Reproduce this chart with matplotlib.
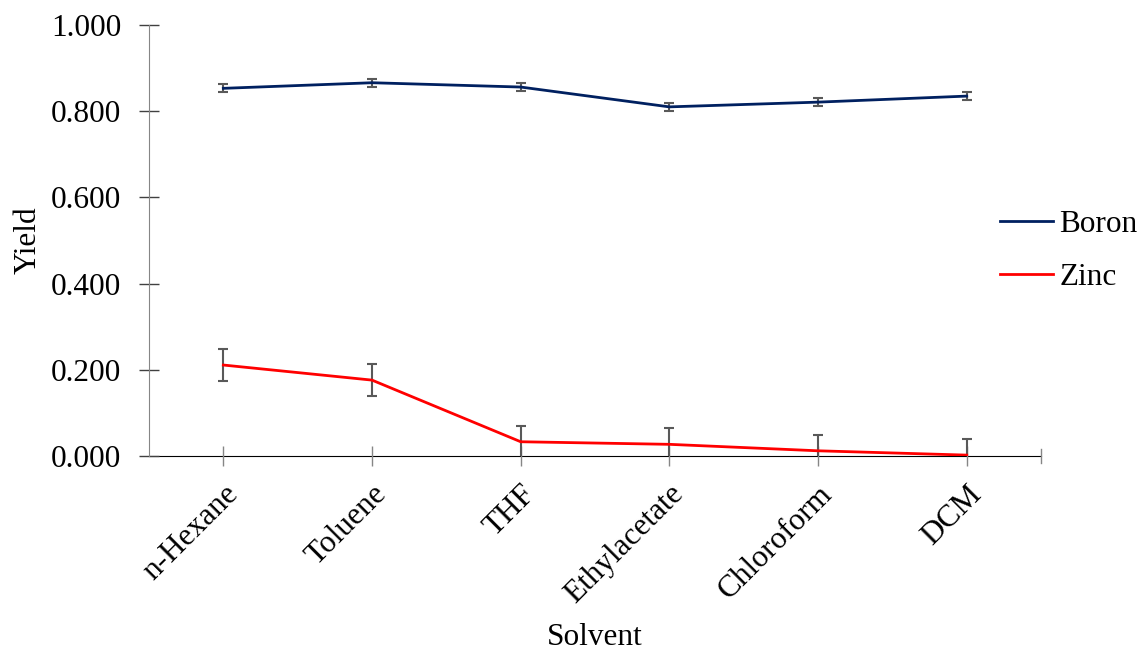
import numpy as np
import matplotlib
matplotlib.use("Agg")
import matplotlib.pyplot as plt
from matplotlib.lines import Line2D
from matplotlib.transforms import ScaledTranslation

plt.rcParams['font.family'] = ['Liberation Serif', 'DejaVu Serif']

solvents = ['n-Hexane', 'Toluene', 'THF', 'Ethylacetate', 'Chloroform', 'DCM']
boron = [0.853, 0.866, 0.856, 0.810, 0.821, 0.835]
boron_err = [0.009, 0.009, 0.009, 0.009, 0.009, 0.009]
zinc = [0.211, 0.176, 0.033, 0.027, 0.012, 0.002]
zinc_err = [0.037, 0.037, 0.037, 0.037, 0.037, 0.037]

FS = 22.5
fig = plt.figure(figsize=(11.4, 6.54), dpi=100)
ax = fig.add_axes([0.1307, 0.3028, 0.7825, 0.659])

x = np.arange(len(solvents)) + 0.5
err_kw = dict(ecolor='#595959', elinewidth=1.5, capsize=3.5, capthick=1.5)
ax.errorbar(x, boron, yerr=boron_err, color='#002060', lw=2, **err_kw)
ax.errorbar(x, zinc, yerr=zinc_err, color='#FF0000', lw=2, **err_kw)

ax.set_xlim(0, len(solvents))
ax.set_ylim(0, 1.0)
yt = np.arange(0, 1.01, 0.2)
ax.set_yticks(yt)
ax.set_yticklabels([f'{v:.3f}' for v in yt], fontsize=FS)
ax.set_xticks(x)
ax.set_xticklabels(solvents, fontsize=FS, rotation=45, ha='right', va='top',
                   rotation_mode='anchor')
shift = ScaledTranslation(-2 / 100, 0, fig.dpi_scale_trans)
for lab in ax.get_xticklabels():
    lab.set_transform(lab.get_transform() + shift)
ax.tick_params(axis='y', direction='inout', length=14, width=1, color='#404040', pad=13)
ax.tick_params(axis='x', direction='inout', length=14, width=1, color='#868686', pad=10)

for s in ['top', 'right']:
    ax.spines[s].set_visible(False)
ax.spines['left'].set_color('#868686')
ax.spines['bottom'].set_color('black')
ax.spines['bottom'].set_zorder(0)

# tick at right end of x axis
ax.plot([len(solvents), len(solvents)], [-0.016, 0.016], color='#868686', lw=1,
        clip_on=False)

ax.set_xlabel('Solvent', fontsize=FS, labelpad=10)
ax.set_ylabel('Yield', fontsize=FS, labelpad=6)

handles = [Line2D([], [], color='#002060', lw=2), Line2D([], [], color='#FF0000', lw=2)]
fig.legend(handles, ['Boron', 'Zinc'], loc='upper left', bbox_to_anchor=(0.877, 0.679),
           frameon=False, fontsize=FS, handlelength=1.7, handletextpad=0.2,
           labelspacing=0.78, borderpad=0, borderaxespad=0)

fig.savefig('out.png', dpi=100)
